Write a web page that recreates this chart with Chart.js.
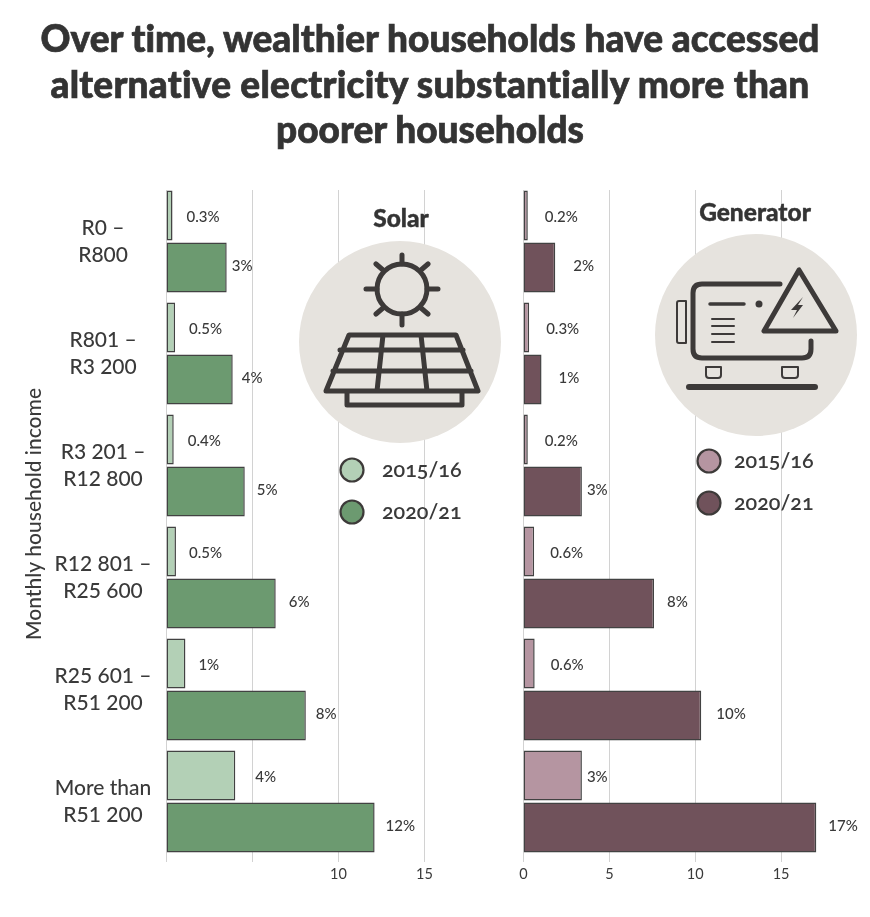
<!DOCTYPE html>
<html>
<head>
<meta charset="utf-8">
<script src="https://cdn.jsdelivr.net/npm/chart.js@4"></script>
<style>
  html, body { margin: 0; padding: 0; background: #fff; }
  #page { position: relative; width: 870px; height: 917px; overflow: hidden; font-family: Lato, sans-serif; color: #3a3a3a; }
  canvas { position: absolute; top: 0; }
  #chartSolar { left: 0; }
  #chartGenerator { left: 500px; }
  #title { position: absolute; left: 0; top: 15px; width: 860px; margin: 0; text-align: center; font-size: 37px; line-height: 45.5px; font-weight: 900; color: #343434; font-variant-ligatures: none; -webkit-text-stroke: 0.7px #343434; }
  #title span { letter-spacing: 0.25px; }
  .panel-title { position: absolute; font-size: 24.5px; font-weight: 900; transform: translateX(-50%); color: #343434; -webkit-text-stroke: 0.4px #343434; }
  .legend-text { position: absolute; font-size: 21.5px; font-weight: 600; font-feature-settings: "onum"; }
  svg { position: absolute; left: 0; top: 0; }
</style>
</head>
<body>
<div id="page">
  <canvas id="chartSolar" width="500" height="917"></canvas>
  <canvas id="chartGenerator" width="370" height="917"></canvas>

  <svg width="870" height="917" fill="none" stroke="#3d3a39" stroke-linecap="round" stroke-linejoin="round">
    <!-- solar icon -->
    <circle cx="400" cy="342" r="101" fill="#e6e3de" stroke="none"/>
    <circle cx="402" cy="289" r="25" stroke-width="5"/>
    <path stroke-width="5" d="M402 255V264M402 314V325M366 289H377M427 289H438M376 264L383 270M421 308L428 314M428 264L421 270M383 308L376 314"/>
    <path stroke-width="5" d="M349 335H456L478 391H326ZM340 350H463M333 371H471M383 335L377 391M421 335L427 391M347 391V405H462V391"/>
    <!-- generator icon -->
    <circle cx="756" cy="335" r="101" fill="#e6e3de" stroke="none"/>
    <path stroke-width="5" d="M780 284H702Q693 284 693 293V349Q693 358 702 358H802Q811 358 811 349V341"/>
    <path stroke-width="2" d="M686 301H679Q677 301 677 303V341Q677 343 679 343H686Z"/>
    <path stroke-width="3.5" d="M710 304H744"/>
    <circle cx="759" cy="304" r="3.5" fill="#3d3a39" stroke="none"/>
    <path stroke-width="2" d="M712 319H734M712 326H734M712 334H734M712 342H734"/>
    <path stroke-width="5" fill="#e6e3de" d="M799 270L764 331H836Z"/>
    <path fill="#3d3a39" stroke="none" d="M803 297L791 310H797L793 318L803 305H798Z"/>
    <path stroke-width="2" d="M706 367H721V375Q721 378 718 378H709Q706 378 706 375ZM782 367H798V375Q798 378 795 378H785Q782 378 782 375Z"/>
    <path stroke-width="6" d="M689 387H815"/>
    <!-- legend markers -->
    <circle cx="352" cy="470" r="11.5" fill="#b3d0b6" stroke-width="2.2"/>
    <circle cx="352" cy="512" r="11.5" fill="#6c9a70" stroke-width="2.2"/>
    <circle cx="709" cy="461" r="11.5" fill="#b595a1" stroke-width="2.2"/>
    <circle cx="709" cy="503" r="11.5" fill="#70525b" stroke-width="2.2"/>
  </svg>

  <h1 id="title">Over time, wealthier households have accessed<br><span>alternative electricity substantially more than</span><br>poorer households</h1>
  <div class="panel-title" style="left:401px;top:203px">Solar</div>
  <div class="panel-title" style="left:755px;top:197px">Generator</div>
  <div class="legend-text" style="left:382px;top:456px">2015/16</div>
  <div class="legend-text" style="left:382px;top:498px">2020/21</div>
  <div class="legend-text" style="left:734px;top:447px">2015/16</div>
  <div class="legend-text" style="left:734px;top:489px">2020/21</div>
</div>

<script>
const categories = [
  ["R0 –", "R800"],
  ["R801 –", "R3 200"],
  ["R3 201 –", "R12 800"],
  ["R12 801 –", "R25 600"],
  ["R25 601 –", "R51 200"],
  ["More than", "R51 200"]
];

const seriesNames = ["2015/16", "2020/21"];

const solar2015 = [0.35, 0.5, 0.42, 0.55, 1.1, 4];
const solar2020 = [3.5, 3.85, 4.55, 6.35, 8.1, 12.1];
const generator2015 = [0.25, 0.33, 0.25, 0.62, 0.65, 3.4];
const generator2020 = [1.85, 1.05, 3.4, 7.6, 10.35, 17.05];

const solar2015Labels = ["0.3%", "0.5%", "0.4%", "0.5%", "1%", "4%"];
const solar2020Labels = ["3%", "4%", "5%", "6%", "8%", "12%"];
const generator2015Labels = ["0.2%", "0.3%", "0.2%", "0.6%", "0.6%", "3%"];
const generator2020Labels = ["2%", "1%", "3%", "8%", "10%", "17%"];

const solarTickLabels = ["", "", "10", "15"];
const generatorTickLabels = ["0", "5", "10", "15"];

const axisTitle = "Monthly household income";

// how far each value label sits from the end of its bar
const solar2015Gaps = [14, 14, 14, 13, 13, 20];
const solar2020Gaps = [5, 9, 12, 13, 10, 11];
const generator2015Gaps = [17, 17, 17, 16, 16, 5];
const generator2020Gaps = [18, 17, 5, 13, 15, 12];

const textColor = "#3a3a3a";
const borderColor = "#424242";
const gridColor = "#d2d2d2";
const gridTop = 190;
const gridBottom = 862;

// vertical lines run a little past the bands, so they are drawn from the x scale here
const gridPlugin = {
  id: "panelGrid",
  beforeDatasetsDraw(chart) {
    const x = chart.scales.x;
    const c = chart.ctx;
    c.save();
    c.strokeStyle = gridColor;
    c.lineWidth = 1;
    x.ticks.forEach(t => {
      const px = Math.floor(x.getPixelForValue(t.value)) + 0.5;
      c.beginPath();
      c.moveTo(px, gridTop);
      c.lineTo(px, gridBottom);
      c.stroke();
    });
    c.restore();
  }
};

const valueLabelPlugin = {
  id: "valueLabels",
  afterDatasetsDraw(chart) {
    const c = chart.ctx;
    c.save();
    c.fillStyle = textColor;
    c.font = "500 15px Lato";
    c.textAlign = "left";
    c.textBaseline = "middle";
    chart.data.datasets.forEach((ds, i) => {
      chart.getDatasetMeta(i).data.forEach((bar, j) => {
        c.fillText(ds.valueLabels[j], bar.x + ds.labelGaps[j], bar.y + (i === 0 ? 2 : -1));
      });
    });
    c.restore();
  }
};

// the title sits a bit above the middle of the axis, which scale titles can't do
const axisTitlePlugin = {
  id: "incomeTitle",
  afterDraw(chart) {
    if (chart.canvas.id !== "chartSolar") return;
    const c = chart.ctx;
    c.save();
    c.translate(34, 514);
    c.rotate(-Math.PI / 2);
    c.fillStyle = textColor;
    c.font = "500 21px Lato";
    c.textAlign = "center";
    c.textBaseline = "middle";
    c.fillText(axisTitle, 0, 0);
    c.restore();
  }
};

function makeChart(id, opts) {
  return new Chart(document.getElementById(id), {
    type: "bar",
    data: {
      labels: categories,
      datasets: [
        {
          label: seriesNames[0],
          data: opts.first,
          backgroundColor: opts.lightColor,
          valueLabels: opts.firstLabels,
          labelGaps: opts.firstGaps
        },
        {
          label: seriesNames[1],
          data: opts.second,
          backgroundColor: opts.darkColor,
          valueLabels: opts.secondLabels,
          labelGaps: opts.secondGaps
        }
      ]
    },
    options: {
      indexAxis: "y",
      responsive: false,
      animation: false,
      devicePixelRatio: 1,
      categoryPercentage: 104 / 112,
      barPercentage: 50 / 52,
      borderWidth: 1.5,
      borderColor: borderColor,
      borderSkipped: false,
      layout: {
        autoPadding: false,
        padding: { top: 185.5, left: 0, right: opts.paddingRight, bottom: 0 }
      },
      plugins: { legend: { display: false }, tooltip: { enabled: false } },
      scales: {
        x: {
          min: 0,
          max: 19,
          grid: { display: false },
          border: { display: false },
          afterFit: scale => { scale.height = 59.5; },
          ticks: {
            stepSize: 5,
            includeBounds: false,
            maxRotation: 0,
            padding: 0,
            color: textColor,
            font: { family: "Lato", size: 14.5, weight: 400 },
            callback: (value, index) => opts.tickLabels[index]
          }
        },
        y: {
          grid: { display: false },
          border: { display: false },
          afterFit: scale => { scale.width = opts.axisWidth; },
          ticks: {
            display: opts.showCategories,
            crossAlign: "center",
            padding: 7,
            color: textColor,
            font: { family: "Lato", size: 21, weight: 500, lineHeight: 1.3 }
          }
        }
      }
    },
    plugins: [gridPlugin, valueLabelPlugin, axisTitlePlugin]
  });
}

makeChart("chartSolar", {
  first: solar2015, second: solar2020,
  firstLabels: solar2015Labels, secondLabels: solar2020Labels,
  firstGaps: solar2015Gaps, secondGaps: solar2020Gaps,
  lightColor: "#b3d0b6", darkColor: "#6c9a70",
  tickLabels: solarTickLabels,
  showCategories: true,
  axisWidth: 166.5, paddingRight: 6.7
});

makeChart("chartGenerator", {
  first: generator2015, second: generator2020,
  firstLabels: generator2015Labels, secondLabels: generator2020Labels,
  firstGaps: generator2015Gaps, secondGaps: generator2020Gaps,
  lightColor: "#b595a1", darkColor: "#70525b",
  tickLabels: generatorTickLabels,
  showCategories: false,
  axisWidth: 23.5, paddingRight: 20.2
});
</script>
</body>
</html>
